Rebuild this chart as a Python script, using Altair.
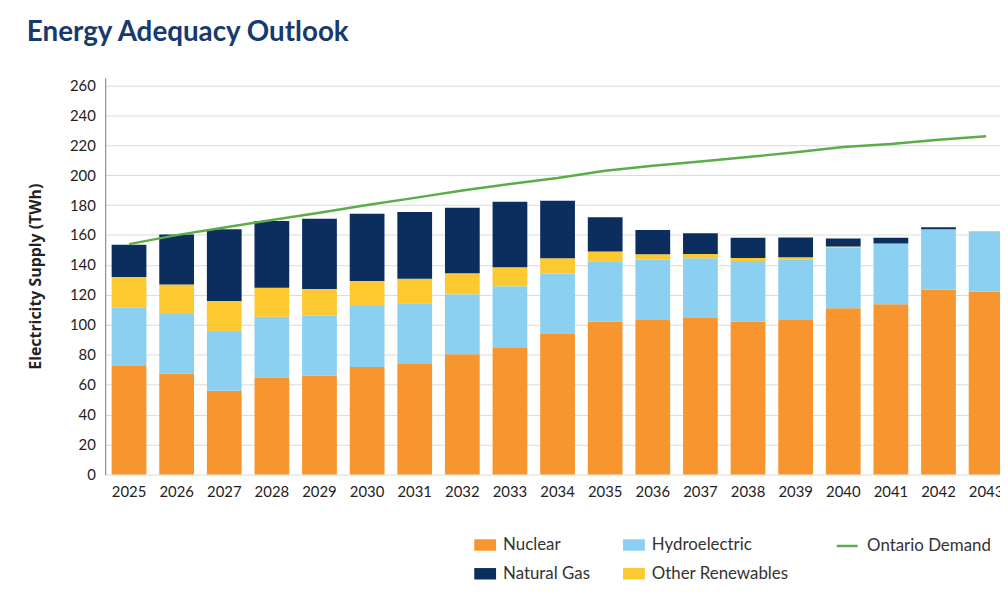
import altair as alt
import pandas as pd

years = [str(y) for y in range(2025, 2044)]
nuclear = [73.0, 67.5, 56.0, 64.8, 66.2, 71.9, 74.3, 80.3, 85.1, 93.9, 102.1, 103.2, 104.5, 102.2, 103.2, 111.1, 113.8, 123.5, 122.2]
hydro = [38.6, 39.7, 40.1, 40.6, 40.1, 40.6, 40.2, 40.1, 40.6, 40.2, 40.4, 40.4, 40.0, 40.5, 40.6, 40.6, 40.6, 40.4, 40.3]
other_renew = [20.3, 19.8, 19.9, 19.4, 17.6, 16.7, 16.3, 14.1, 12.8, 10.4, 6.4, 3.5, 2.8, 2.0, 1.3, 0.6, 0.0, 0.0, 0.0]
natural_gas = [21.6, 33.3, 47.9, 44.6, 47.0, 45.0, 44.5, 43.7, 43.7, 38.3, 22.9, 16.3, 13.9, 13.5, 13.2, 5.4, 3.7, 1.3, 0.0]
demand = [153.9, 159.9, 165.0, 170.0, 174.9, 180.0, 184.8, 189.7, 194.1, 198.0, 202.9, 206.2, 209.1, 212.1, 215.2, 218.8, 220.7, 223.6, 226.0]

# legend order (column-major fill): Nuclear / Natural Gas | Hydroelectric / Other Renewables
legend_sources = ["Nuclear", "Natural Gas", "Hydroelectric", "Other Renewables"]
source_colors = ["#F7962F", "#0B2E5E", "#8CD0F1", "#FCC930"]
stack_rank = {"Nuclear": 0, "Hydroelectric": 1, "Other Renewables": 2, "Natural Gas": 3}
series_values = {
    "Nuclear": nuclear,
    "Hydroelectric": hydro,
    "Other Renewables": other_renew,
    "Natural Gas": natural_gas,
}

rows = []
for i, yr in enumerate(years):
    for src, vals in series_values.items():
        rows.append({"year": yr, "source": src, "value": vals[i], "rank": stack_rank[src]})
bars_df = pd.DataFrame(rows)
line_df = pd.DataFrame({"year": years, "demand": demand, "series": ["Ontario Demand"] * len(years)})

FONT = "Lato"
TXT = "#222222"

xscale = alt.Scale(domain=years, range=[0, 912], paddingInner=0.27, paddingOuter=0.135)
yscale = alt.Scale(domain=[0, 265], nice=False)
ytitle = "Electricity Supply (TWh)"

xaxis = alt.Axis(title=None, labelAngle=0, domain=False, ticks=False, labelPadding=10,
                 labelFontSize=15, labelFont=FONT, labelColor=TXT, grid=False)
yaxis = alt.Axis(title=ytitle, values=list(range(0, 261, 20)), ticks=False, labelPadding=10,
                 labelFontSize=15, labelFont=FONT, labelColor=TXT,
                 domain=True, domainColor="#777777", domainWidth=1,
                 grid=True, gridColor="#dcdcdc", gridWidth=1,
                 titleFont="Open Sans", titleFontSize=16, titleFontWeight="bold", titleColor=TXT,
                 titlePadding=26)

rect_path = "M-1,-0.524L1,-0.524L1,0.524L-1,0.524Z"

bars = alt.Chart(bars_df).mark_bar().encode(
    x=alt.X("year:N", scale=xscale, axis=xaxis, sort=years),
    y=alt.Y("value:Q", stack="zero", scale=yscale, axis=yaxis),
    color=alt.Color("source:N",
                    scale=alt.Scale(domain=legend_sources, range=source_colors),
                    legend=alt.Legend(title=None, orient="none", legendX=372, legendY=460,
                                      columns=2, columnPadding=33, rowPadding=10,
                                      symbolType=rect_path, symbolSize=484, symbolStrokeWidth=0,
                                      labelFont=FONT, labelFontSize=17, labelColor="#333333",
                                      labelOffset=7, padding=0)),
    order=alt.Order("rank:Q", sort="ascending"),
)

line = alt.Chart(line_df).mark_line(strokeWidth=2.5).encode(
    x=alt.X("year:N", scale=xscale, axis=xaxis, sort=years),
    y=alt.Y("demand:Q", scale=yscale, axis=yaxis),
    stroke=alt.Stroke("series:N",
                      scale=alt.Scale(domain=["Ontario Demand"], range=["#5AAE48"]),
                      legend=alt.Legend(title=None, orient="none", legendX=736, legendY=460,
                                        symbolType="stroke", symbolSize=441, symbolStrokeWidth=2.5,
                                        labelFont=FONT, labelFontSize=17, labelColor="#333333",
                                        labelOffset=8, padding=0)),
)

chart = alt.layer(bars, line).properties(
    width=902,
    height=400,
    autosize=alt.AutoSizeParams(type="none"),
    padding={"left": 98, "top": 68, "right": 0, "bottom": 112},
    title=alt.Title("Energy Adequacy Outlook", anchor="start", frame="group", dx=-79,
                    offset=9, baseline="alphabetic", font=FONT, fontSize=28,
                    fontWeight="bold", color="#173A6E"),
    background="white",
).configure_view(stroke=None)

chart.save("out.html", embed_options={"renderer": "svg", "actions": False})
